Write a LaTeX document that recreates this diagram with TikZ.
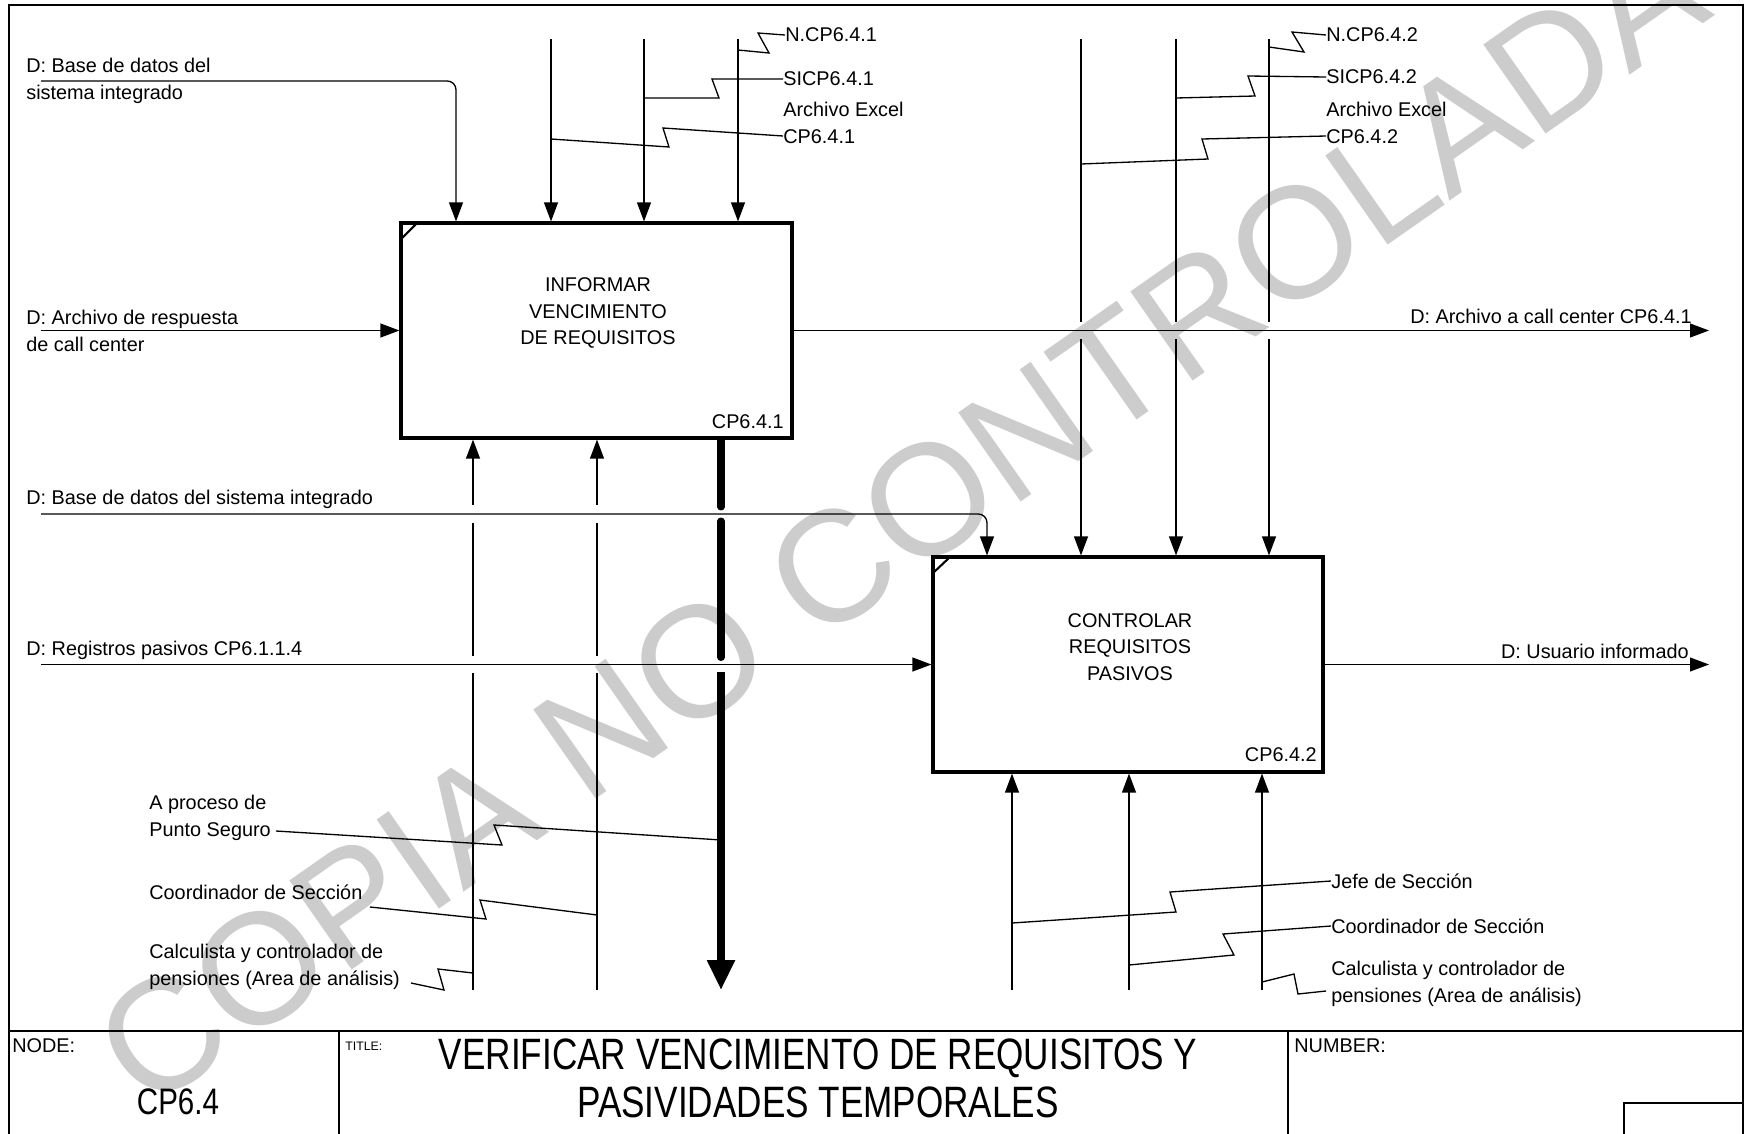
\documentclass[tikz,border=0pt]{standalone}
\usepackage{fontspec}
\setmainfont{Liberation Sans}
\newfontfamily\narrowfont[FakeStretch=0.8]{Liberation Sans}
\usetikzlibrary{arrows.meta}
\begin{document}
\begin{tikzpicture}[x=0.02cm,y=-0.02cm,
  flow/.style={line width=0.75pt},
  arr/.style={-{Triangle[length=10.8pt,width=7.9pt]}},
  bigarr/.style={-{Triangle[length=17pt,width=15pt]}},
  thick flow/.style={line width=4pt},
  box/.style={draw,line width=1.8pt,inner sep=0pt},
  corner/.style={line width=1.2pt},
  frame/.style={line width=1.1pt},
  lbl/.style={inner sep=0pt,font=\fontsize{11.3pt}{15.3pt}\selectfont,align=left},
  boxtxt/.style={inner sep=0pt,font=\fontsize{11.3pt}{15pt}\selectfont,align=center},
  small/.style={inner sep=0pt,font=\fontsize{7pt}{8pt}\selectfont},
  titlefont/.style={inner sep=0pt,font=\narrowfont\fontsize{25pt}{27.2pt}\selectfont,align=center},
  wm/.style={inner sep=0pt,text=black!20,font=\fontsize{90pt}{90pt}\selectfont}]
\useasboundingbox (0,0) rectangle (1745,1133);
\begin{scope}
\clip (0,0) rectangle (1745,1133);
\node[wm,rotate=35] (wmark) at (900,520) {COPIA NO CONTROLADA};
\end{scope}

% frame and title block
\draw[frame] (9,1140) -- (9,5) -- (1743,5) -- (1743,1140);
\draw[frame] (9,1031) -- (1743,1031);
\draw[frame] (339,1031) -- (339,1140);
\draw[frame] (1288,1031) -- (1288,1140);
\draw[frame] (1624,1140) |- (1743,1103);
\node[lbl,anchor=west] (tnode) at (12,1046) {NODE:};
\node[inner sep=0pt,font=\narrowfont\fontsize{21pt}{24pt}\selectfont] (tcp) at (178,1102) {CP6.4};
\node[small,anchor=west] (ttl) at (345,1046) {TITLE:};
\node[titlefont] (ttitle) at (818,1078) {VERIFICAR VENCIMIENTO DE REQUISITOS Y\\PASIVIDADES TEMPORALES};
\node[lbl,anchor=west] (tnum) at (1294,1046) {NUMBER:};

% boxes
\node[box,minimum width=7.82cm,minimum height=4.3cm] (b1) at (596.5,330.5) {};
\node[box,minimum width=7.8cm,minimum height=4.3cm] (b2) at (1128,664.5) {};
\draw[corner] (401,239) -- (417,223);
\draw[corner] (933,573) -- (950,557);
\node[boxtxt] (b1t) at (598,313) {INFORMAR\\VENCIMIENTO\\DE REQUISITOS};
\node[boxtxt] (b2t) at (1130,647) {CONTROLAR\\REQUISITOS\\PASIVOS};
\node[lbl,anchor=base east] (b1id) at (784,428) {CP6.4.1};
\node[lbl,anchor=base east] (b2id) at (1317,761) {CP6.4.2};

% coordinates
\coordinate (s1) at (41,81);
\coordinate (s2) at (41,330.5);
\coordinate (s3) at (41,514);
\coordinate (s4) at (41,664.5);
\coordinate (e1) at (1709,330.5);
\coordinate (e2) at (1709,664.5);
\coordinate (x11) at (456,0);
\coordinate (x21) at (987,0);
\coordinate (t12) at (551,39);
\coordinate (t13) at (644,39);
\coordinate (t14) at (738,39);
\coordinate (t22) at (1081,39);
\coordinate (t23) at (1176,39);
\coordinate (t24) at (1269,39);
\coordinate (u11) at (473,990);
\coordinate (u12) at (597,990);
\coordinate (u13) at (721,990);
\coordinate (u21) at (1012,990);
\coordinate (u22) at (1129,990);
\coordinate (u23) at (1262,990);

% inputs
\node[lbl,anchor=west] (l1) at (26,81) {D: Base de datos del\\sistema integrado};
\draw[flow,arr,rounded corners=5pt] (s1) -| (b1.north -| x11);
\node[lbl,anchor=west] (l2) at (26,331) {D: Archivo de respuesta\\de call center};
\draw[flow,arr] (s2) -- (b1.west);
\node[lbl,anchor=west] (l3) at (26,499) {D: Base de datos del sistema integrado};
\draw[flow,arr,rounded corners=5pt] (s3) -| (b2.north -| x21);
\node[lbl,anchor=west] (l4) at (26,650) {D: Registros pasivos CP6.1.1.4};
\draw[flow,arr] (s4) -- (b2.west);

% outputs
\node[lbl,anchor=east] (o1) at (1692,316) {D: Archivo a call center CP6.4.1};
\draw[flow,arr] (b1.east) -- (e1);
\node[lbl,anchor=east] (o2) at (1689,651) {D: Usuario informado};
\draw[flow,arr] (b2.east) -- (e2);

% controls box 1
\foreach \t in {t12,t13,t14}{\draw[flow,arr] (\t) -- (\t |- b1.north);}
% controls box 2 (with gaps at output line)
\foreach \t in {t22,t23,t24}{
  \draw[flow] (\t) -- ([yshift=5pt]\t |- e1);
  \draw[flow,arr] ([yshift=-5pt]\t |- e1) -- (\t |- b2.north);}

% mechanisms box 1 with gaps
\foreach \u in {u11,u12}{
  \draw[flow] (\u) -- ([yshift=-5pt]\u |- s4);
  \draw[flow] ([yshift=5pt]\u |- s4) -- ([yshift=-5pt]\u |- s3);
  \draw[flow,arr] ([yshift=5pt]\u |- s3) -- (\u |- b1.south);}
% output down (thick)
\draw[thick flow,line cap=round] (b1.south -| u13) -- ([yshift=4pt]u13 |- s3);
\draw[thick flow,line cap=round] ([yshift=-4pt]u13 |- s3) -- ([yshift=4pt]u13 |- s4);
\draw[thick flow,bigarr] ([yshift=-4pt]u13 |- s4) -- (u13);

% mechanisms box 2
\foreach \u in {u21,u22,u23}{\draw[flow,arr] (\u) -- (\u |- b2.north |- b2.south);}

% labels top-left
\node[lbl,anchor=west] (nN1) at (785,35) {N.CP6.4.1};
\draw[flow] (nN1.west) -- (758,33) -- (769,53) -- (738,50);
\node[lbl,anchor=west] (nS1) at (783,79) {SICP6.4.1};
\draw[flow] (nS1.west) -- (712,79) -- (719,98) -- (644,98);
\node[lbl,anchor=west] (nA1) at (783,123) {Archivo Excel\\CP6.4.1};
\draw[flow] (783,136) -- (663,128) -- (669,147) -- (551,139);

% labels top-right
\node[lbl,anchor=west] (nN2) at (1326,35) {N.CP6.4.2};
\draw[flow] (nN2.west) -- (1292,32) -- (1304,52) -- (1269,47);
\node[lbl,anchor=west] (nS2) at (1326,77) {SICP6.4.2};
\draw[flow] (nS2.west) -- (1248,76) -- (1255,96) -- (1176,98);
\node[lbl,anchor=west] (nA2) at (1326,123) {Archivo Excel\\CP6.4.2};
\draw[flow] (1326,136) -- (1202,139) -- (1208,159) -- (1081,164);

% labels bottom-left
\node[lbl,anchor=west] (nP) at (149,818) {A proceso de\\Punto Seguro};
\draw[flow] (276,831) -- (502,845) -- (494,825) -- (721,840);
\node[lbl,anchor=west] (nC) at (149,892) {Coordinador de Sección};
\draw[flow] (370,907) -- (486,919) -- (480,900) -- (597,915);
\node[lbl,anchor=west] (nK) at (149,967) {Calculista y controlador de\\pensiones (Area de análisis)};
\draw[flow] (411,983) -- (444,990) -- (438,969) -- (473,973);

% labels bottom-right
\node[lbl,anchor=west] (nJ) at (1331,881) {Jefe de Sección};
\draw[flow] (nJ.west) -- (1170,892) -- (1176,912) -- (1012,923);
\node[lbl,anchor=west] (nC2) at (1331,926) {Coordinador de Sección};
\draw[flow] (nC2.west) -- (1223,934) -- (1234,955) -- (1129,965);
\node[lbl,anchor=west] (nK2) at (1331,984) {Calculista y controlador de\\pensiones (Area de análisis)};
\draw[flow] (1262,982) -- (1294,974) -- (1298,994) -- (1326,991);
\end{tikzpicture}
\end{document}
